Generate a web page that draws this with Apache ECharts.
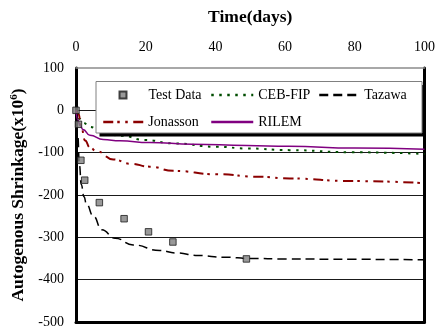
<!DOCTYPE html>
<html>
<head>
<meta charset="utf-8">
<script src="https://cdn.jsdelivr.net/npm/echarts@6/dist/echarts.min.js"></script>
<style>
  html, body { margin: 0; padding: 0; background: #fff; }
  #chart { width: 438px; height: 333px; }
</style>
</head>
<body>
<div id="chart"></div>
<script>
// Autogenous shrinkage (x10^-6) against age in days: measured points and four model curves.
const SERIF = "'Liberation Serif', 'Times New Roman', serif";

const testDays   = [0, 0.7, 1.4, 2.5, 6.7, 13.8, 20.8, 27.8, 48.9];
const testValues = [0, -33, -118, -165, -218, -256, -287, -311, -351];

const cebDays   = [0, 1, 2, 4, 7, 13, 19.8, 27.8, 40.3, 49, 61.3, 79, 100];
const cebValues = [0, -20, -29, -39, -50, -60, -70, -78, -86, -90, -94, -99, -103];

const tazawaDays   = [0, 0.5, 1, 1.5, 2.3, 3, 5, 7.4, 11.2, 16.4, 24, 28.8, 35, 42.7, 50, 60, 80, 100];
const tazawaValues = [0, -60, -130, -175, -204, -222, -250, -282, -302, -318, -331, -337, -343, -347, -350, -351, -352, -353];

const jonassonDays   = [0, 0.7, 1.5, 2.6, 4, 5.9, 10.7, 15.5, 21.2, 27.9, 40.3, 52.7, 61.3, 79, 100];
const jonassonValues = [0, -8, -40, -71, -88, -97, -116, -126, -133, -143, -151, -157, -161, -167, -172];

const rilemDays   = [0, 0.5, 1.1, 2, 4, 7.8, 12.6, 21, 33.5, 49, 61, 80, 100];
const rilemValues = [0, -22, -35, -45, -59, -69, -72, -76, -80, -83, -85, -89, -92];

const xTicks = { min: 0, max: 100, step: 20 };
const yTicks = { min: -500, max: 100, step: 100 };

const pairs = (xs, ys) => xs.map((x, i) => [x, ys[i]]);

const chart = echarts.init(document.getElementById('chart'), null, { renderer: 'canvas' });

const lineSeries = (name, xs, ys, color, width, type) => ({
  name, type: 'line', data: pairs(xs, ys),
  showSymbol: false, symbol: 'none',
  smooth: true, smoothMonotone: 'x',
  lineStyle: { color, width, type },
  itemStyle: { color },
  z: 2
});

const legendText = { fontFamily: SERIF, fontSize: 14, color: '#000' };
// line-only legend keys: the key's marker is hidden, only the stroke remains
const lineKey = { itemStyle: { opacity: 0, borderWidth: 0 }, lineStyle: { width: 2.5 } };

chart.setOption({
  animation: false,
  backgroundColor: '#fff',
  grid: { left: 76, right: 13, top: 68, bottom: 11, containLabel: false },
  xAxis: [
    {
      type: 'value', position: 'top',
      min: xTicks.min, max: xTicks.max, interval: xTicks.step,
      name: 'Time(days)', nameLocation: 'middle', nameGap: 42,
      nameTextStyle: { fontFamily: SERIF, fontSize: 17.5, fontWeight: 'bold', color: '#000' },
      axisLine: { onZero: false, lineStyle: { color: '#8c8c8c', width: 1.5 } },
      axisTick: { show: false },
      axisLabel: { fontFamily: SERIF, fontSize: 14, color: '#000', margin: 14 },
      splitLine: { show: false }
    },
    {
      type: 'value', position: 'bottom',
      min: xTicks.min, max: xTicks.max, interval: xTicks.step,
      axisLine: { show: true, onZero: false, lineStyle: { color: '#000', width: 3 } },
      axisTick: { show: false }, axisLabel: { show: false }, splitLine: { show: false }
    }
  ],
  yAxis: [
    {
      type: 'value', position: 'left',
      min: yTicks.min, max: yTicks.max, interval: yTicks.step,
      name: '{t|Autogenous Shrinkage(x10}{s|6}{t|)}',
      nameLocation: 'middle', nameGap: 43, nameRotate: 90,
      nameTextStyle: {
        rich: {
          t: { fontFamily: SERIF, fontSize: 17.5, fontWeight: 'bold', color: '#000', lineHeight: 20 },
          s: { fontFamily: SERIF, fontSize: 11, fontWeight: 'bold', color: '#000', lineHeight: 11, verticalAlign: 'top' }
        }
      },
      axisLine: { onZero: false, lineStyle: { color: '#000', width: 3 } },
      axisTick: { show: false },
      axisLabel: { fontFamily: SERIF, fontSize: 14, color: '#000', margin: 12 },
      splitLine: { show: true, showMinLine: false, showMaxLine: false, lineStyle: { color: '#1a1a1a', width: 1 } }
    },
    {
      type: 'value', position: 'right',
      min: yTicks.min, max: yTicks.max, interval: yTicks.step,
      axisLine: { show: true, onZero: false, lineStyle: { color: '#000', width: 3 } },
      axisTick: { show: false }, axisLabel: { show: false }, splitLine: { show: false }
    }
  ],
  graphic: [
    { type: 'rect', z: 3, silent: true, shape: { x: 99.5, y: 85, width: 326, height: 51.5 }, style: { fill: '#000' } },
    { type: 'rect', z: 3, silent: true, shape: { x: 96, y: 81.5, width: 326, height: 51.5 }, style: { fill: '#fff', stroke: '#808080', lineWidth: 1 } }
  ],
  legend: [
    {
      data: ['Test Data'], orient: 'vertical', left: 118.5, top: 88, padding: 0,
      itemWidth: 7, itemHeight: 7, textStyle: Object.assign({ padding: [0, 0, 0, 17] }, legendText)
    },
    Object.assign({
      data: ['Jonasson'], orient: 'vertical', left: 102, top: 115, padding: 0,
      itemWidth: 40, itemHeight: 14, textStyle: legendText
    }, lineKey),
    Object.assign({
      data: ['CEB-FIP', 'RILEM'], orient: 'vertical', left: 210, top: 88, padding: 0,
      itemWidth: 42, itemHeight: 14, itemGap: 13, textStyle: legendText
    }, lineKey),
    Object.assign({
      data: ['Tazawa'], orient: 'vertical', left: 318, top: 88, padding: 0,
      itemWidth: 40, itemHeight: 14, textStyle: legendText
    }, lineKey)
  ],
  series: [
    lineSeries('CEB-FIP', cebDays, cebValues, '#004d00', 2, [2.5, 5.5]),
    lineSeries('Tazawa', tazawaDays, tazawaValues, '#000', 1.5, [9, 5]),
    lineSeries('Jonasson', jonassonDays, jonassonValues, '#8b0000', 2, [10, 4, 2.5, 5.5, 2.5, 5.5]),
    lineSeries('RILEM', rilemDays, rilemValues, '#800080', 1.5, 'solid'),
    {
      name: 'Test Data', type: 'scatter', data: pairs(testDays, testValues),
      symbol: 'rect', symbolSize: 6.5,
      itemStyle: { color: '#808080', borderColor: '#1a1a1a', borderWidth: 1 },
      z: 2
    }
  ]
});
</script>
</body>
</html>
